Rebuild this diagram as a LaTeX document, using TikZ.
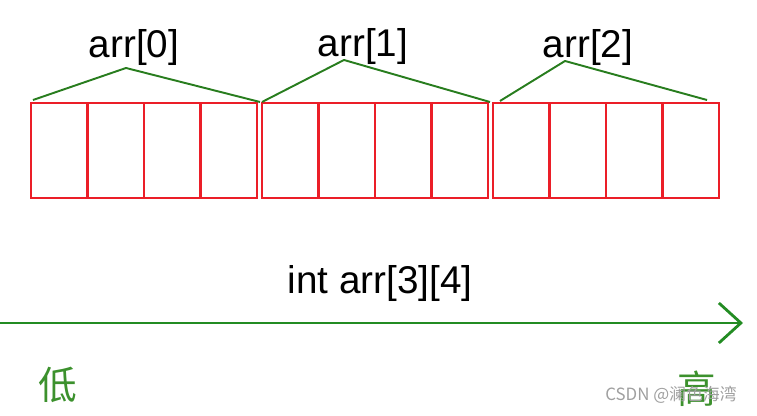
\documentclass[tikz,border=0pt]{standalone}
\usepackage{fontspec}
\setmainfont{Liberation Sans}
\newfontfamily\cjkfont{Noto Sans CJK SC}
\usepackage{tikz}
\usetikzlibrary{arrows.meta, positioning, calc}
\definecolor{cellred}{RGB}{235,30,40}
\definecolor{brace green}{RGB}{40,125,30}
\definecolor{axis green}{RGB}{35,140,35}
\definecolor{mark green}{RGB}{60,145,45}
\tikzset{
  arr cell/.style={
    rectangle, draw=cellred, line width=1.4pt,
    minimum width=1.13cm, minimum height=1.9cm,
    outer sep=0pt, inner sep=0pt
  },
  arr brace/.style={
    draw=brace green, line width=1.1pt, line join=round
  },
  arr label/.style={
    font=\fontsize{22}{26}\selectfont, text=black, inner sep=0pt
  },
  addr axis/.style={
    draw=axis green, line width=1.6pt,
    -{Straight Barb[length=0.44cm, width=0.8cm, line width=1.6pt]}
  },
  addr label/.style={
    font=\cjkfont\fontsize{22}{26}\selectfont, text=mark green, inner sep=0pt
  },
  water mark/.style={
    font=\cjkfont\fontsize{9.6}{11}\selectfont, text=gray!75, inner sep=0pt
  }
}

\begin{document}
\begin{tikzpicture}[node distance=0cm]
  \useasboundingbox (0,0) rectangle (15.14,8.32);

  % arr[0]
  \node (a1) [arr cell] at (1.185,5.31) {};
  \node (a2) [arr cell, right=of a1] {};
  \node (a3) [arr cell, right=of a2] {};
  \node (a4) [arr cell, right=of a3] {};
  % arr[1]
  \node (b1) [arr cell, right=0.1cm of a4] {};
  \node (b2) [arr cell, right=of b1] {};
  \node (b3) [arr cell, right=of b2] {};
  \node (b4) [arr cell, right=of b3] {};
  % arr[2]
  \node (c1) [arr cell, right=0.1cm of b4] {};
  \node (c2) [arr cell, right=of c1] {};
  \node (c3) [arr cell, right=of c2] {};
  \node (c4) [arr cell, right=of c3] {};

  \coordinate (p0) at (2.52,6.96);
  \coordinate (p1) at (6.88,7.12);
  \coordinate (p2) at (11.30,7.10);

  \draw [arr brace] ($(a1.north west)+(0.04,0.06)$) -- (p0) -- ($(a4.north east)+(0.06,0.02)$);
  \draw [arr brace] ($(b1.north west)+(0,0.02)$) -- (p1) -- ($(b4.north east)+(0.04,0.02)$);
  \draw [arr brace] ($(c1.north west)+(0.14,0.04)$) -- (p2) -- ($(c4.north east)+(-0.24,0.06)$);

  \node (l0) [arr label] at (2.68,7.36) {arr[0]};
  \node (l1) [arr label] at (7.26,7.38) {arr[1]};
  \node (l2) [arr label] at (11.76,7.36) {arr[2]};

  \node (decl) [arr label] at (7.6,2.64) {int arr[3][4]};

  \coordinate (lo) at (0,1.86);
  \coordinate (hi) at (14.86,1.86);
  \draw [addr axis] (lo) -- (hi);

  \node (low) [addr label] at (1.16,0.62) {低};
  \node (high) [addr label] at (13.94,0.54) {高};
  \node (wm) [water mark] at (13.42,0.42) {CSDN @澜色海湾};
\end{tikzpicture}
\end{document}
